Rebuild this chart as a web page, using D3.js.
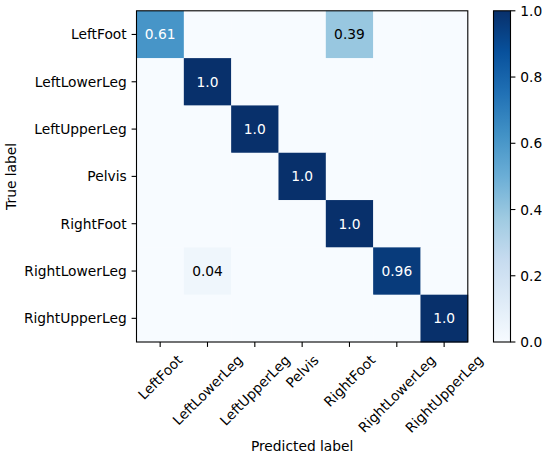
<!DOCTYPE html>
<html>
<head>
<meta charset="utf-8">
<script src="https://cdn.jsdelivr.net/npm/d3@7"></script>
<style>
  html, body { margin: 0; padding: 0; background: #fff; }
  svg { display: block; font-family: "DejaVu Sans", sans-serif; }
</style>
</head>
<body>
<svg id="chart" width="550" height="457"></svg>
<script>
// ---- data ----
const classes = ["LeftFoot", "LeftLowerLeg", "LeftUpperLeg", "Pelvis", "RightFoot", "RightLowerLeg", "RightUpperLeg"];
const matrixRows = [
  [0.61, 0, 0, 0, 0.39, 0, 0],
  [0, 1.0, 0, 0, 0, 0, 0],
  [0, 0, 1.0, 0, 0, 0, 0],
  [0, 0, 0, 1.0, 0, 0, 0],
  [0, 0, 0, 0, 1.0, 0, 0],
  [0, 0.04, 0, 0, 0, 0.96, 0],
  [0, 0, 0, 0, 0, 0, 1.0]
];
const colorbarTicks = [0.0, 0.2, 0.4, 0.6, 0.8, 1.0];
const bluesStops = ["#f7fbff", "#deebf7", "#c6dbef", "#9ecae1", "#6baed6", "#4292c6", "#2171b5", "#08519c", "#08306b"];

// ---- layout ----
const svg = d3.select("#chart");
const fontSize = 13.8;
const plot = { left: 136.5, right: 467.8, top: 10.8, bottom: 342 };
const cbar = { left: 493.5, right: 510.5, top: 10.8, bottom: 342 };
const tickLen = 4.9, tickPad = 4.9;

const color = d3.scaleLinear()
  .domain(bluesStops.map((_, i) => i / (bluesStops.length - 1)))
  .range(bluesStops)
  .interpolate(d3.interpolateRgb)
  .clamp(true);

const x = d3.scaleBand().domain(classes).range([plot.left, plot.right]).padding(0);
const y = d3.scaleBand().domain(classes).range([plot.top, plot.bottom]).padding(0);

const cells = [];
matrixRows.forEach((row, i) => row.forEach((v, j) => cells.push({ t: classes[i], p: classes[j], v })));

const fmt = v => Number.isInteger(v) ? v.toFixed(1) : String(v);

// cells
svg.append("g").selectAll("rect").data(cells).join("rect")
  .attr("x", d => x(d.p))
  .attr("y", d => y(d.t))
  .attr("width", x.bandwidth() + 0.4)
  .attr("height", y.bandwidth() + 0.4)
  .attr("fill", d => color(d.v));

// cell labels
svg.append("g").selectAll("text").data(cells.filter(d => d.v > 0)).join("text")
  .attr("x", d => x(d.p) + x.bandwidth() / 2)
  .attr("y", d => y(d.t) + y.bandwidth() / 2)
  .attr("text-anchor", "middle")
  .attr("dominant-baseline", "central")
  .attr("font-size", fontSize)
  .attr("fill", d => d.v > 0.5 ? "#ffffff" : "#000000")
  .text(d => fmt(d.v));

// frame
svg.append("rect")
  .attr("x", plot.left).attr("y", plot.top)
  .attr("width", plot.right - plot.left).attr("height", plot.bottom - plot.top)
  .attr("fill", "none").attr("stroke", "#000").attr("stroke-width", 1.1);

// y axis
const yg = svg.append("g");
classes.forEach(c => {
  const cy = y(c) + y.bandwidth() / 2;
  yg.append("line").attr("x1", plot.left - tickLen).attr("x2", plot.left)
    .attr("y1", cy).attr("y2", cy).attr("stroke", "#000").attr("stroke-width", 1.1);
  yg.append("text").attr("x", plot.left - tickLen - tickPad).attr("y", cy)
    .attr("text-anchor", "end").attr("dominant-baseline", "central")
    .attr("font-size", fontSize).attr("fill", "#000").text(c);
});

// x axis
const xg = svg.append("g");
const lineH = fontSize * 1.17;
classes.forEach(c => {
  const cx = x(c) + x.bandwidth() / 2;
  xg.append("line").attr("x1", cx).attr("x2", cx)
    .attr("y1", plot.bottom).attr("y2", plot.bottom + tickLen)
    .attr("stroke", "#000").attr("stroke-width", 1.1);
  const t = xg.append("text")
    .attr("text-anchor", "middle").attr("dominant-baseline", "central")
    .attr("font-size", fontSize).attr("fill", "#000").text(c);
  const w = t.node().getComputedTextLength();
  const half = (w + lineH) * Math.SQRT1_2 / 2;
  const cy = plot.bottom + tickLen + tickPad + half;
  t.attr("transform", `translate(${cx},${cy}) rotate(-45)`);
});

// axis titles
svg.append("text")
  .attr("transform", `translate(10.5,${(plot.top + plot.bottom) / 2}) rotate(-90)`)
  .attr("text-anchor", "middle").attr("dominant-baseline", "central")
  .attr("font-size", fontSize).attr("fill", "#000").text("True label");
svg.append("text")
  .attr("x", (plot.left + plot.right) / 2).attr("y", 450.5)
  .attr("text-anchor", "middle")
  .attr("font-size", fontSize).attr("fill", "#000").text("Predicted label");

// colorbar
const defs = svg.append("defs");
const grad = defs.append("linearGradient").attr("id", "cbgrad")
  .attr("x1", 0).attr("y1", 1).attr("x2", 0).attr("y2", 0);
bluesStops.forEach((c, i) => grad.append("stop")
  .attr("offset", i / (bluesStops.length - 1)).attr("stop-color", c));
svg.append("rect")
  .attr("x", cbar.left).attr("y", cbar.top)
  .attr("width", cbar.right - cbar.left).attr("height", cbar.bottom - cbar.top)
  .attr("fill", "url(#cbgrad)").attr("stroke", "#000").attr("stroke-width", 1.1);

const cy = d3.scaleLinear().domain([0, 1]).range([cbar.bottom, cbar.top]);
const cg = svg.append("g");
colorbarTicks.forEach(v => {
  cg.append("line").attr("x1", cbar.right).attr("x2", cbar.right + tickLen)
    .attr("y1", cy(v)).attr("y2", cy(v)).attr("stroke", "#000").attr("stroke-width", 1.1);
  cg.append("text").attr("x", cbar.right + tickLen + tickPad).attr("y", cy(v))
    .attr("dominant-baseline", "central").attr("font-size", fontSize).attr("fill", "#000")
    .text(v.toFixed(1));
});
</script>
</body>
</html>
